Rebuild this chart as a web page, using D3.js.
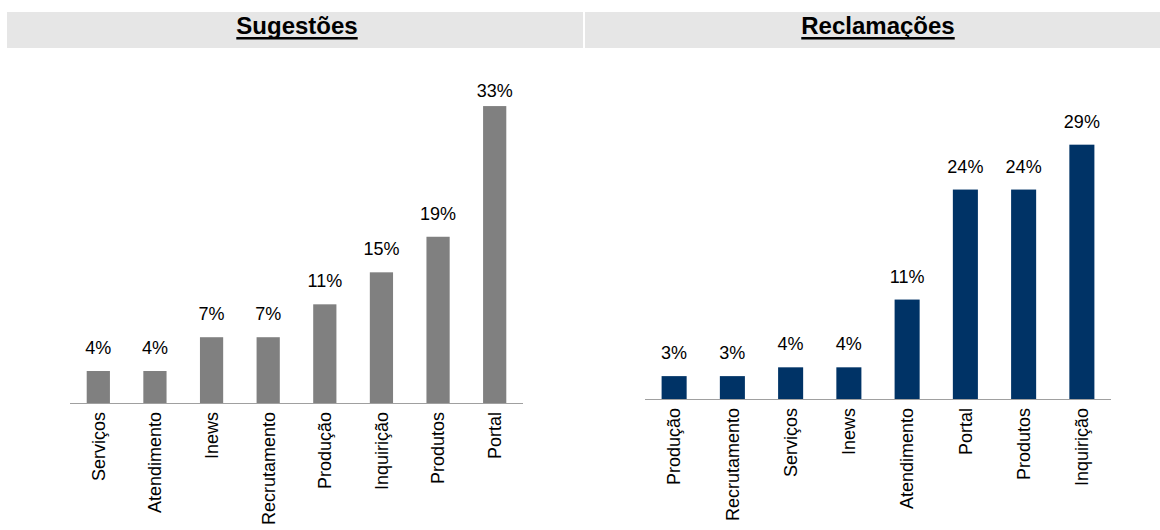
<!DOCTYPE html>
<html>
<head>
<meta charset="utf-8">
<script src="https://cdn.jsdelivr.net/npm/d3@7"></script>
<style>
  html, body { margin: 0; padding: 0; background: #fff; }
  svg { display: block; font-family: "Liberation Sans", Arial, Helvetica, sans-serif; }
</style>
</head>
<body>
<svg id="chart" width="1160" height="530"></svg>
<script>
// ---- data ----
const titles = ["Sugestões", "Reclamações"];
const sugestoesCategories = ["Serviços", "Atendimento", "Inews", "Recrutamento", "Produção", "Inquirição", "Produtos", "Portal"];
const sugestoesValues = [3.6, 3.6, 7.4, 7.4, 11.1, 14.7, 18.7, 33.4];
const reclamacoesCategories = ["Produção", "Recrutamento", "Serviços", "Inews", "Atendimento", "Portal", "Produtos", "Inquirição"];
const reclamacoesValues = [2.6, 2.6, 3.6, 3.6, 11.3, 23.8, 23.8, 28.9];
const yDomain = [0, 35];

const svg = d3.select("#chart");

const panels = [
  { title: titles[0], cats: sugestoesCategories, vals: sugestoesValues, color: "#808080",
    hx: 7, hw: 576, tx: 297, x0: 70, x1: 523, base: 403, top: 91.85, pad: 0.59 },
  { title: titles[1], cats: reclamacoesCategories, vals: reclamacoesValues, color: "#003366",
    hx: 585, hw: 576, tx: 878, x0: 645, x1: 1111, base: 399, top: 91, pad: 0.57 }
];

panels.forEach(p => {
  // header band
  svg.append("rect").attr("x", p.hx).attr("y", 12).attr("width", p.hw).attr("height", 36)
    .attr("fill", "#e6e6e6");
  const t = svg.append("text").attr("x", p.tx).attr("y", 34).attr("text-anchor", "middle")
    .attr("font-size", 24).attr("font-weight", "bold").attr("fill", "#000").text(p.title);
  // underline
  const w = t.node().getComputedTextLength();
  svg.append("rect").attr("x", p.tx - w / 2).attr("y", 37).attr("width", w).attr("height", 2.5).attr("fill", "#000");

  const x = d3.scaleBand().domain(p.cats).range([p.x0, p.x1]).paddingInner(p.pad).paddingOuter(p.pad / 2);
  const y = d3.scaleLinear().domain(yDomain).range([p.base, p.top]);

  const g = svg.append("g");
  g.selectAll("rect.bar").data(p.vals).join("rect").attr("class", "bar")
    .attr("x", (d, i) => x(p.cats[i]))
    .attr("width", x.bandwidth())
    .attr("y", d => y(d))
    .attr("height", d => y(0) - y(d))
    .attr("fill", p.color);

  g.selectAll("text.val").data(p.vals).join("text").attr("class", "val")
    .attr("x", (d, i) => x(p.cats[i]) + x.bandwidth() / 2)
    .attr("y", d => Math.max(y(d) - 17, 97))
    .attr("text-anchor", "middle").attr("font-size", 18).attr("fill", "#000")
    .text(d => Math.round(d) + "%");

  // axis
  const axis = d3.axisBottom(x).tickSize(0).tickPadding(0);
  const ag = svg.append("g").attr("transform", `translate(0,${p.base})`).call(axis);
  ag.select(".domain").attr("stroke", "#a0a0a0").attr("stroke-width", 1.2)
    .attr("d", `M${p.x0},0.5H${p.x1}`);
  ag.selectAll(".tick text")
    .attr("font-family", "Liberation Sans, Arial, sans-serif")
    .attr("font-size", 18).attr("fill", "#000")
    .attr("text-anchor", "end")
    .attr("transform", "rotate(-90)")
    .attr("x", -9).attr("y", 0).attr("dy", "0.35em");
});
</script>
</body>
</html>
